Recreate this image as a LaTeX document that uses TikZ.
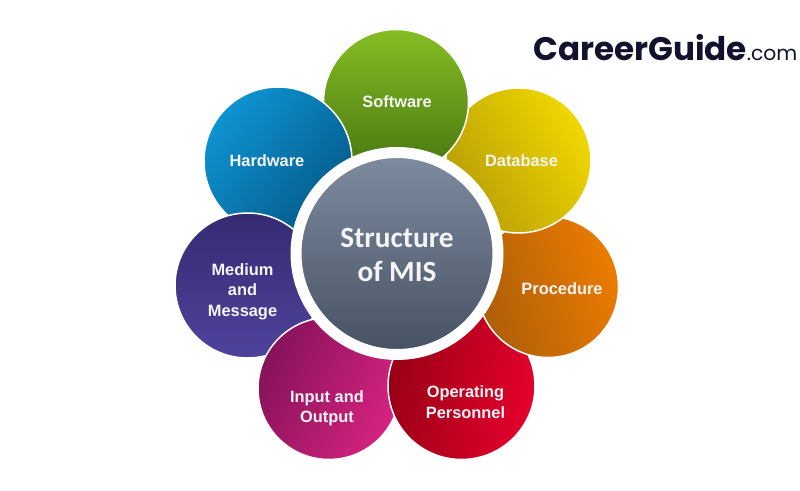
\documentclass[tikz,border=0pt]{standalone}
\usepackage{fontspec}
\setmainfont{Liberation Sans}
\newfontfamily\hubfont{Carlito}
\newfontfamily\logofont{Poppins}
\usetikzlibrary{positioning}
\definecolor{softwaretop}{HTML}{86BD24}
\definecolor{softwarelow}{HTML}{467510}
\definecolor{hardwaretop}{HTML}{0E93D2}
\definecolor{hardwarelow}{HTML}{045A88}
\definecolor{databasetop}{HTML}{F0D800}
\definecolor{databaselow}{HTML}{B89E06}
\definecolor{proceduretop}{HTML}{EC7C00}
\definecolor{procedurelow}{HTML}{AE5E08}
\definecolor{operatingtop}{HTML}{E6002C}
\definecolor{operatinglow}{HTML}{980016}
\definecolor{inputtop}{HTML}{D6237F}
\definecolor{inputlow}{HTML}{86125A}
\definecolor{mediumtop}{HTML}{352A72}
\definecolor{mediumlow}{HTML}{4E439B}
\definecolor{hubtop}{HTML}{7F8B9F}
\definecolor{hublow}{HTML}{465163}
\definecolor{logoink}{HTML}{12122E}
\definecolor{labelink}{HTML}{F4F4F4}
\tikzset{
  petal/.style n args={3}{circle, draw=white, line width=1.5pt, minimum size=145pt,
    inner sep=0pt, top color=#1, bottom color=#2, shading angle=#3},
  petaltext/.style={text=labelink, font=\bfseries\fontsize{16.4}{20.5}\selectfont, align=center, inner sep=0pt},
}

\begin{document}
\begin{tikzpicture}[x=1pt, y=1pt, node distance = 100pt, on grid]
  \useasboundingbox (0,0) rectangle (800,490);
  \node[petal={proceduretop}{procedurelow}{-72}, minimum size=141pt] (procedure) at (548,203) {};
  \node[petal={databasetop}{databaselow}{-58}] (database) at (518.5,329.5) {};
  \node[petal={softwaretop}{softwarelow}{0}] (software) at (396,388) {};
  \node[petal={hardwaretop}{hardwarelow}{50}, minimum size=148pt] (hardware) at (278,329) {};
  \node[petal={mediumtop}{mediumlow}{0}] (medium) at (247.5,204.5) {};
  \node[petal={inputtop}{inputlow}{-115}, minimum size=142pt] (input) at (329,101.5) {};
  \node[petal={operatingtop}{operatinglow}{-100}, minimum size=147pt] (operating) at (461.5,104) {};
  % the ring of petals closes on itself
  \begin{scope}
    \clip (460,100) rectangle (640,185);
    \node[petal={proceduretop}{procedurelow}{-72}, minimum size=141pt] (procedurecut) at (procedure) {};
  \end{scope}
  \node[circle, draw=white, line width=11pt, minimum size=202pt, inner sep=0pt,
    top color=hubtop, bottom color=hublow] (mis) at (397,236.5) {};

  \node[petaltext] (softwarelabel) [right=1pt of software] {Software};
  \node[petaltext] (hardwarelabel) [left=11pt of hardware] {Hardware};
  \node[petaltext] (databaselabel) [right=3pt of database] {Database};
  \node[petaltext] (procedurelabel) [right=14pt of procedure, yshift=-2pt] {Procedure};
  \node[petaltext] (mediumlabel) [below left=6pt and 5pt of medium] {Medium\\and\\Message};
  \node[petaltext] (inputlabel) [below left=20pt and 2pt of input] {Input and\\Output};
  \node[petaltext] (operatinglabel) [below right=16pt and 4pt of operating] {Operating\\Personnel};
  \node[text=labelink, font=\hubfont\bfseries\fontsize{29.3}{34}\selectfont, align=center, inner sep=0pt]
    (mislabel) [above=0pt of mis, yshift=-1.5pt] {Structure\\of MIS};
  \node[anchor=base west, text=logoink, inner sep=0pt, font=\logofont\fontsize{32.6}{33}\selectfont]
    (logo) at (533,429) {\bfseries CareerGuide{\mdseries\fontsize{20.3}{23}\selectfont.com}};
\end{tikzpicture}
\end{document}
